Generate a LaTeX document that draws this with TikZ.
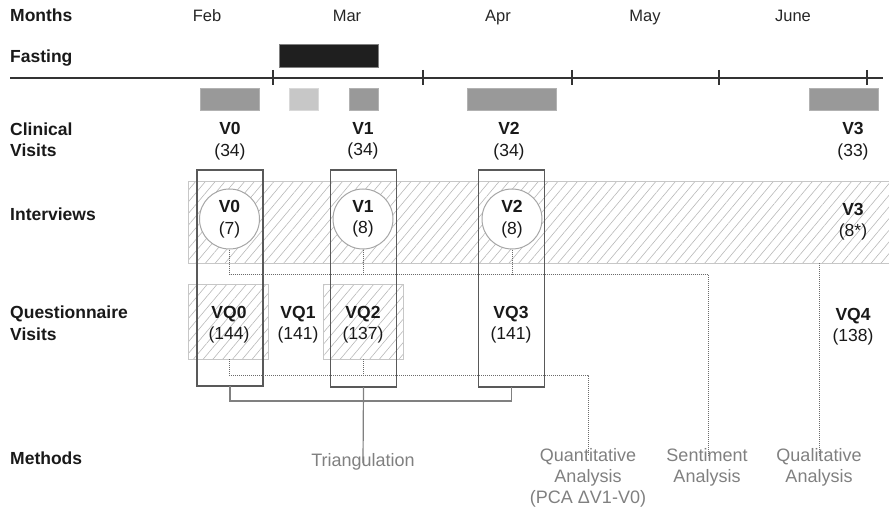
\documentclass[tikz,border=0pt]{standalone}
\usepackage{fontspec}
\setmainfont{Liberation Sans}
\usetikzlibrary{patterns.meta}
\usetikzlibrary{positioning}
\usetikzlibrary{calc}

\tikzset{
  rowlabel/.style={anchor=west,inner sep=0pt,align=left,text=black!90,font=\fontsize{17.5}{21.5}\selectfont\bfseries},
  month/.style={anchor=base,inner sep=0pt,text=black!85,font=\fontsize{16.5}{20}\selectfont},
  visit/.style={inner sep=0pt,align=center,text=black!90,font=\fontsize{17.5}{21.5}\selectfont},
  hatch/.style={draw=black!22,line width=0.7pt,inner sep=0pt,outer sep=0pt,
    pattern={Lines[angle=50,distance=7.5pt,line width=0.6pt]},pattern color=black!28},
  ivcircle/.style={circle,draw=black!35,fill=white,line width=1pt,minimum size=60pt,inner sep=0pt,
    align=center,text=black!90,font=\fontsize{17.5}{21.5}\selectfont},
  trbox/.style={draw=black!65,line width=1.3pt,minimum width=66pt,inner sep=0pt,outer sep=0pt},
  link/.style={draw=black!50,line width=1.2pt},
  dotlink/.style={draw=black!58,line width=1pt,dash pattern=on 1pt off 1pt},
  method/.style={anchor=north,inner sep=0pt,align=center,text=black!50,font=\fontsize{18}{20.7}\selectfont},
  bar/.style={fill=black!40,draw=black!30,line width=0.5pt},
  fastbar/.style={fill=black!88,draw=black!50,line width=0.5pt},
  timeline/.style={draw=black!80,line width=1.2pt},
}

\begin{document}
\begin{tikzpicture}[x=1pt,y=1pt,yscale=-1,xscale=1]
  \useasboundingbox (0,0) rectangle (889,508);

  % row labels
  \node[rowlabel,anchor=base west] (lmonths) at (10,21.5) {Months};
  \node[rowlabel,anchor=base west] (lfasting) at (10,62.5) {Fasting};
  \node[rowlabel] (lclinical) at (10,139.5) {Clinical\\Visits};
  \node[rowlabel,anchor=base west] (linterviews) at (10,220.5) {Interviews};
  \node[rowlabel] (lquest) at (10,323) {Questionnaire\\Visits};
  \node[rowlabel,anchor=base west] (lmethods) at (10,464) {Methods};

  % months and time line
  \foreach \m/\x in {Feb/207,Mar/347,Apr/498,May/645,June/793}
    \node[month] (m-\m) at (\x,21.5) {\m};
  \draw[timeline] (10,78) -- (883,78);
  \foreach \x in {273,423,572,719,867}
    \draw[timeline] (\x,70) -- (\x,85);

  % fasting period
  \draw[fastbar] (279,44) rectangle (378,67);

  % clinical visit windows
  \draw[bar] (200,88) rectangle (259,110);
  \draw[bar,fill=black!22,draw=black!15] (289,88) rectangle (318,110);
  \draw[bar] (349,88) rectangle (378,110);
  \draw[bar] (467,88) rectangle (556,110);
  \draw[bar] (809,88) rectangle (878,110);

  \node[visit] (cv0) at (230,141) {\textbf{V0}\\(34)};
  \node[visit] (cv1) at (363,141) {\textbf{V1}\\(34)};
  \node[visit] (cv2) at (509,141) {\textbf{V2}\\(34)};
  \node[visit] (cv3) at (853,141) {\textbf{V3}\\(33)};

  % hatched areas
  \node[hatch,minimum width=703pt,minimum height=82pt] (ivband) at (539.5,222) {};
  \node[hatch,minimum width=80pt,minimum height=75pt] (vq0box) at (228,321.5) {};
  \node[hatch,minimum width=80pt,minimum height=75pt] (vq2box) at (363.5,321.5) {};

  % interviews
  \node[ivcircle] (iv0) at (229.5,219) {\textbf{V0}\\(7)};
  \node[ivcircle] (iv1) at (363,219) {\textbf{V1}\\(8)};
  \node[ivcircle] (iv2) at (512,219) {\textbf{V2}\\(8)};
  \node[visit] (iv3) at (853,221.5) {\textbf{V3}\\(8*)};

  % questionnaires
  \node[visit] (vq0) at (229,324.5) {\textbf{VQ0}\\(144)};
  \node[visit] (vq1) at (298,324.5) {\textbf{VQ1}\\(141)};
  \node[visit] (vq2) at (363,324.5) {\textbf{VQ2}\\(137)};
  \node[visit] (vq3) at (511,324.5) {\textbf{VQ3}\\(141)};
  \node[visit] (vq4) at (853,326.5) {\textbf{VQ4}\\(138)};

  % triangulated visits
  \node[trbox,minimum height=216pt] (tr0) at (230,278) {};
  \node[trbox,minimum height=217pt] (tr1) at (363.5,278.5) {};
  \node[trbox,minimum height=217pt] (tr2) at (511.5,278.5) {};

  % methods
  \node[method] (tri) at (363,453) {Triangulation};
  \node[method] (qa) at (588,448.5) {Quantitative\\Analysis\\(PCA ΔV1-V0)};
  \node[method] (sa) at (707,448.5) {Sentiment\\Analysis};
  \node[method] (ql) at (819,448.5) {Qualitative\\Analysis};

  % connectors
  \draw[link] (tr0.south) -- ++(0,15) -| (tr2.south);
  \draw[link] (tr1.south) -- ([yshift=10pt]tri.north);

  \draw[dotlink] (iv0.south) -- ++(0,25) coordinate (ivjoin) -| ([xshift=1pt,yshift=7pt]sa.north);
  \draw[dotlink] (iv1.south) -- (iv1.south |- ivjoin);
  \draw[dotlink] (iv2.south) -- (iv2.south |- ivjoin);

  \draw[dotlink] (vq0box.south -| vq0) -- ++(0,16) coordinate (vqjoin) -| ([yshift=7pt]qa.north);
  \draw[dotlink] (vq2box.south -| vq2) -- (vq2.south |- vqjoin);

  \draw[dotlink] (ivband.south -| ql) -- ([yshift=7pt]ql.north);
\end{tikzpicture}
\end{document}
